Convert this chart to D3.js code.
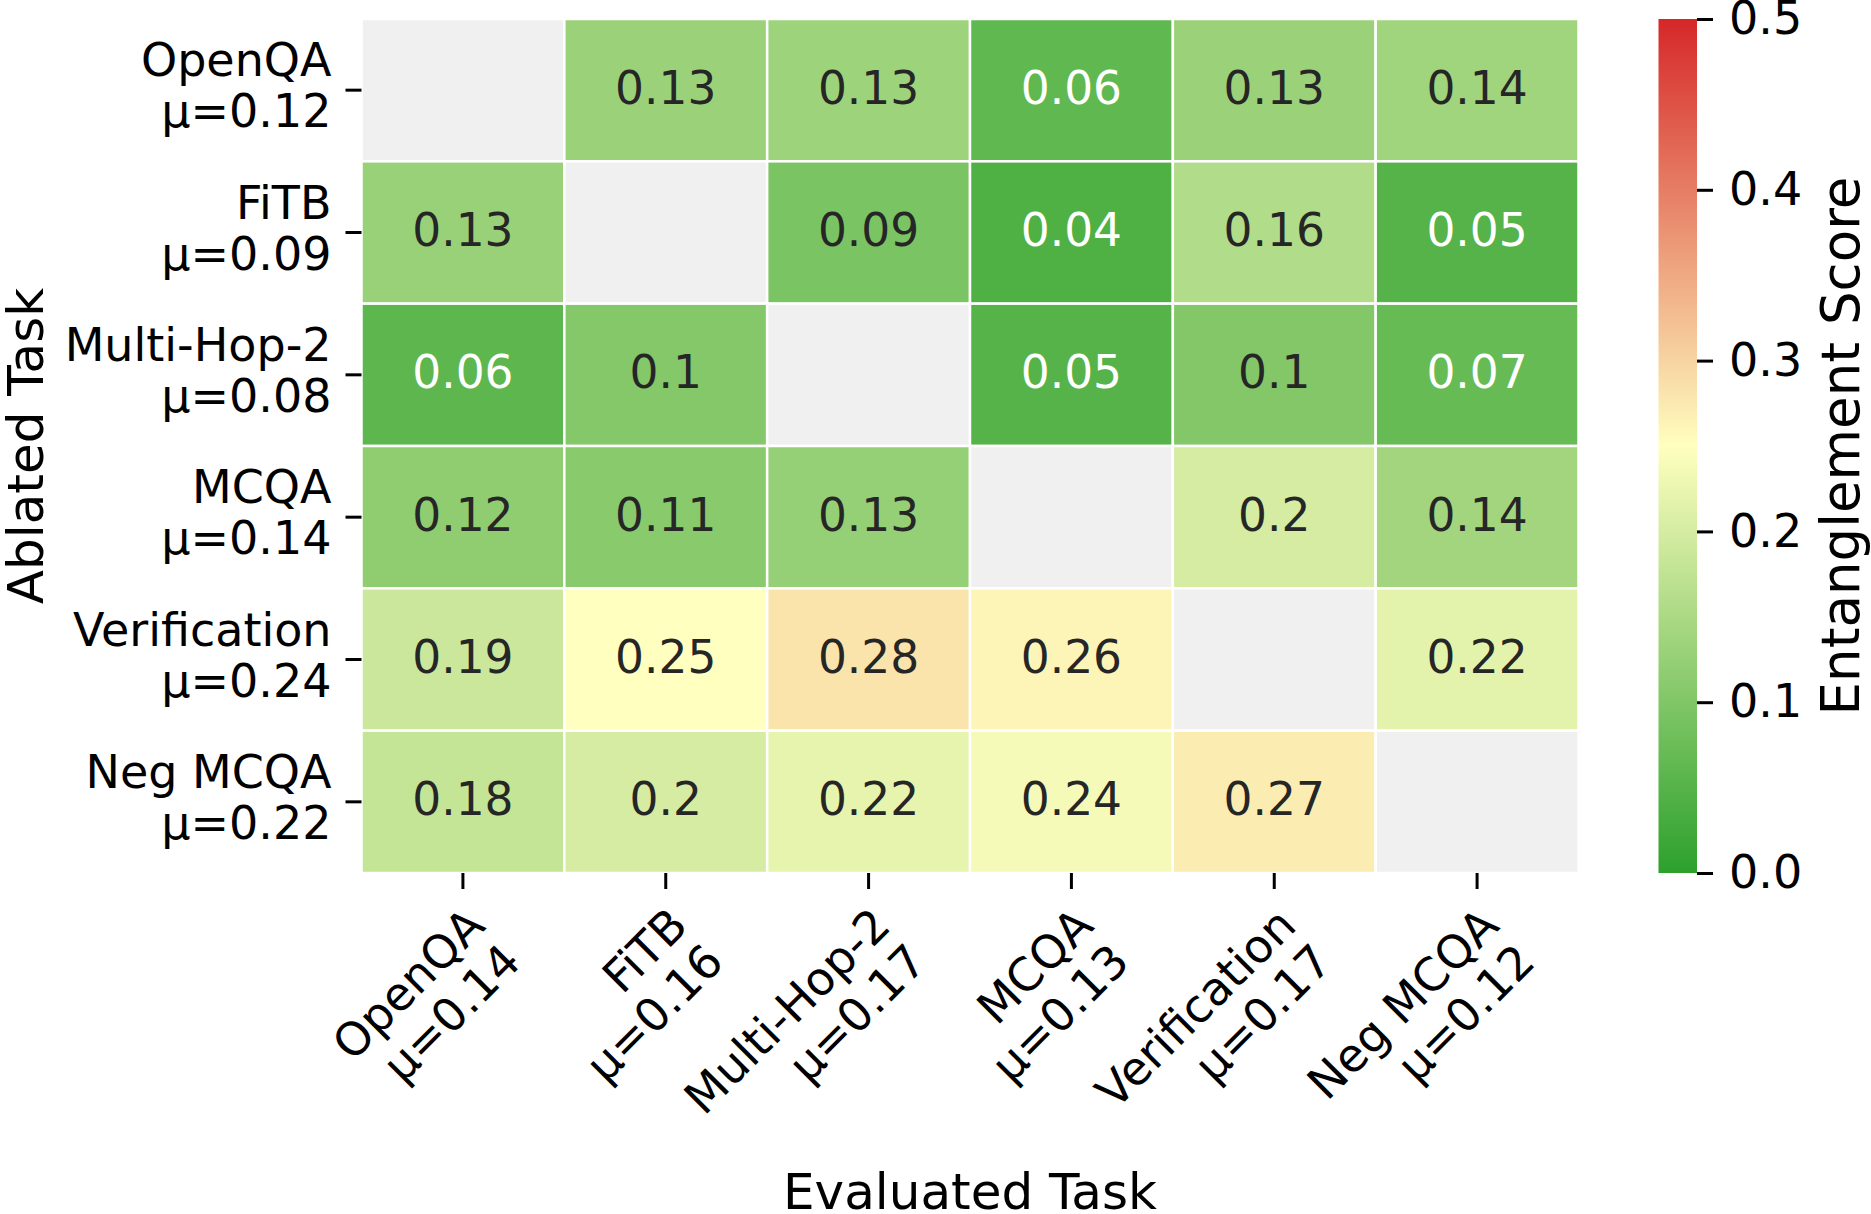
<!DOCTYPE html>
<html>
<head>
<meta charset="utf-8">
<script src="https://cdn.jsdelivr.net/npm/d3@7"></script>
<style>
  body { margin: 0; background: #fff; }
  svg { display: block; font-family: "DejaVu Sans", sans-serif; }
</style>
</head>
<body>
<svg id="chart" width="1871" height="1214"></svg>
<script>
// task names, one per row (ablated) and column (evaluated)
var tasks = ["OpenQA", "FiTB", "Multi-Hop-2", "MCQA", "Verification", "Neg MCQA"];
// mean per row / column, as printed in the tick labels
var rowMeans = ["0.12", "0.09", "0.08", "0.14", "0.24", "0.22"];
var colMeans = ["0.14", "0.16", "0.17", "0.13", "0.17", "0.12"];

// entanglement scores, rows = ablated task, columns = evaluated task (null on the diagonal)
var rowOpenQA  = [null, 0.131, 0.134, 0.062, 0.131, 0.137];
var rowFiTB    = [0.129, null, 0.094, 0.041, 0.158, 0.049];
var rowHop2    = [0.058, 0.104, null, 0.050, 0.103, 0.070];
var rowMCQA    = [0.118, 0.110, 0.126, null, 0.200, 0.140];
var rowVerif   = [0.188, 0.250, 0.281, 0.262, null, 0.218];
var rowNegMCQA = [0.180, 0.201, 0.220, 0.238, 0.272, null];

var cbarTicks = [0, 0.1, 0.2, 0.3, 0.4, 0.5];

var matrix = [rowOpenQA, rowFiTB, rowHop2, rowMCQA, rowVerif, rowNegMCQA];

function drawChart() {
    var svg = d3.select("#chart");
    var font = "DejaVu Sans";

    // heatmap box
    var x0 = 361.5, x1 = 1578.5, y0 = 19, y1 = 873;
    var tickLen = 16, tickW = 3;

    var xScale = d3.scaleBand().domain(d3.range(tasks.length)).range([x0, x1]);
    var yScale = d3.scaleBand().domain(d3.range(tasks.length)).range([y0, y1]);

    // green -> pale yellow -> red
    var colorScale = d3.scaleLinear()
        .domain([0, 0.25, 0.5])
        .range(["#2ca02c", "#ffffbf", "#d62728"])
        .clamp(true);

    // same rule seaborn uses to pick dark or white annotation text
    function luminance(c) {
        var rgb = d3.rgb(c);
        var lin = [rgb.r, rgb.g, rgb.b].map(function(v) {
            v = v / 255;
            return v <= 0.03928 ? v / 12.92 : Math.pow((v + 0.055) / 1.055, 2.4);
        });
        return 0.2126 * lin[0] + 0.7152 * lin[1] + 0.0722 * lin[2];
    }

    var cells = [];
    matrix.forEach(function(row, r) {
        row.forEach(function(v, c) {
            cells.push({r: r, c: c, v: v});
        });
    });

    var cellG = svg.append("g");
    cellG.selectAll("rect")
        .data(cells)
        .enter().append("rect")
        .attr("x", function(d) { return xScale(d.c); })
        .attr("y", function(d) { return yScale(d.r); })
        .attr("width", xScale.bandwidth())
        .attr("height", yScale.bandwidth())
        .attr("fill", function(d) { return d.v == null ? "#f0f0f0" : colorScale(d.v); })
        .attr("stroke", "#fff")
        .attr("stroke-width", 2.5);

    cellG.selectAll("text")
        .data(cells.filter(function(d) { return d.v != null; }))
        .enter().append("text")
        .attr("x", function(d) { return xScale(d.c) + xScale.bandwidth() / 2; })
        .attr("y", function(d) { return yScale(d.r) + yScale.bandwidth() / 2; })
        .attr("dy", "0.3em")
        .attr("text-anchor", "middle")
        .style("font-size", "45.5px")
        .attr("fill", function(d) { return luminance(colorScale(d.v)) > 0.408 ? "#262626" : "#fff"; })
        .text(function(d) { return String(+d.v.toFixed(2)); });

    // y axis (ablated task)
    var yAxisG = svg.append("g")
        .attr("transform", "translate(" + x0 + ",0)")
        .call(d3.axisLeft(yScale).tickSize(tickLen).tickPadding(14).tickFormat(function(i) { return tasks[i]; }))
        .attr("font-family", font);
    yAxisG.select(".domain").remove();
    yAxisG.selectAll(".tick line").attr("stroke", "#000").attr("stroke-width", tickW);
    yAxisG.selectAll(".tick text").each(function(i) {
        var t = d3.select(this).text(null).attr("dy", null).attr("fill", "#000").style("font-size", "46px");
        var x = t.attr("x");
        t.append("tspan").attr("x", x).attr("y", -14).text(tasks[i]);
        t.append("tspan").attr("x", x).attr("y", 37).text("\u03bc=" + rowMeans[i]);
    });

    // x axis (evaluated task), labels rotated 45 degrees
    var xAxisG = svg.append("g")
        .attr("transform", "translate(0," + y1 + ")")
        .call(d3.axisBottom(xScale).tickSize(tickLen).tickFormat(function(i) { return tasks[i]; }))
        .attr("font-family", font);
    xAxisG.select(".domain").remove();
    xAxisG.selectAll(".tick line").attr("stroke", "#000").attr("stroke-width", tickW);
    xAxisG.selectAll(".tick text").each(function(i) {
        var t = d3.select(this).text(null)
            .attr("y", null).attr("dy", null)
            .attr("text-anchor", "end")
            .attr("fill", "#000")
            .style("font-size", "46px")
            .attr("transform", "translate(24,55) rotate(-45)");
        t.append("tspan").attr("x", 0).attr("y", 0).text(tasks[i]);
        t.append("tspan").attr("x", 0).attr("y", 51).text("\u03bc=" + colMeans[i]);
    });

    // axis titles
    svg.append("text")
        .attr("x", (x0 + x1) / 2)
        .attr("y", 1209)
        .attr("text-anchor", "middle")
        .style("font-size", "50px")
        .text("Evaluated Task");

    svg.append("text")
        .attr("transform", "translate(43," + (y0 + y1) / 2 + ") rotate(-90)")
        .attr("text-anchor", "middle")
        .style("font-size", "50px")
        .text("Ablated Task");

    // colorbar
    var cbLeft = 1658.5, cbRight = 1697;
    var cScale = d3.scaleLinear().domain([0, 0.5]).range([y1, y0]);

    var grad = svg.append("defs").append("linearGradient")
        .attr("id", "cbGrad")
        .attr("x1", 0).attr("y1", 1).attr("x2", 0).attr("y2", 0);
    grad.selectAll("stop")
        .data(d3.range(0, 1.0001, 0.05))
        .enter().append("stop")
        .attr("offset", function(d) { return d; })
        .attr("stop-color", function(d) { return colorScale(d * 0.5); });

    svg.append("rect")
        .attr("x", cbLeft)
        .attr("y", y0)
        .attr("width", cbRight - cbLeft)
        .attr("height", y1 - y0)
        .attr("fill", "url(#cbGrad)");

    var cAxisG = svg.append("g")
        .attr("transform", "translate(" + cbRight + ",0)")
        .call(d3.axisRight(cScale).tickValues(cbarTicks).tickSize(tickLen).tickPadding(16).tickFormat(d3.format(".1f")))
        .attr("font-family", font);
    cAxisG.select(".domain").remove();
    cAxisG.selectAll(".tick line").attr("stroke", "#000").attr("stroke-width", tickW);
    cAxisG.selectAll(".tick text").attr("fill", "#000").style("font-size", "46px");

    svg.append("text")
        .attr("transform", "translate(1859," + (y0 + y1) / 2 + ") rotate(-90)")
        .attr("text-anchor", "middle")
        .style("font-size", "53px")
        .text("Entanglement Score");
}

drawChart();
</script>
</body>
</html>
